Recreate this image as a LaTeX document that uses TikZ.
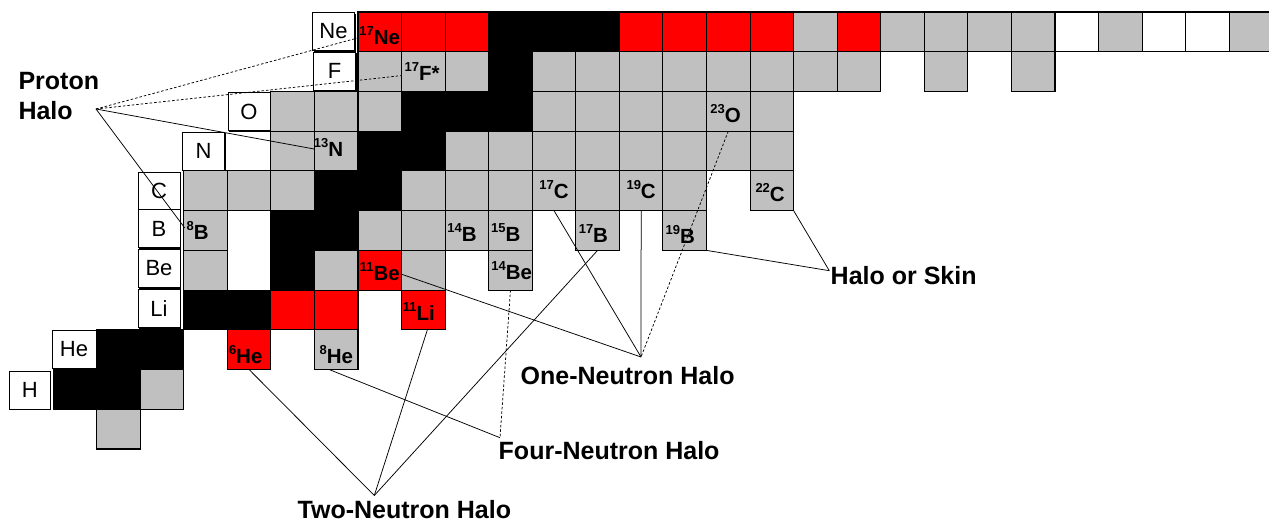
\documentclass[tikz,border=0pt]{standalone}
\usepackage{fontspec}
\setmainfont{Liberation Sans}
\usetikzlibrary{shadows}
\definecolor{silver}{RGB}{192,192,192}
\definecolor{hred}{RGB}{255,0,0}
\newcommand\isolab[2]{\raisebox{9pt}{\fontsize{13}{13}\selectfont\bfseries #1}{\fontsize{20.5}{20.5}\selectfont\bfseries #2}}
\begin{document}
\begin{tikzpicture}[x=1pt,y=-1pt,
  cellbox/.style={draw=black, line width=1.1pt, minimum width=43.56pt, minimum height=39.73pt, inner sep=0pt, outer sep=0pt},
  gcell/.style={cellbox, fill=silver},
  bcell/.style={cellbox, fill=black},
  rcell/.style={cellbox, fill=hred},
  wcell/.style={cellbox, fill=white},
  elbox/.style={draw=black, line width=0.8pt, fill=white, minimum width=42pt, minimum height=38pt, inner sep=0pt, font=\fontsize{22}{22}\selectfont, drop shadow={shadow xshift=1.3pt, shadow yshift=-1.3pt, fill=black, opacity=1}},
  isotxt/.style={inner sep=0pt},
  halotxt/.style={inner sep=0pt, anchor=base west, font=\fontsize{25}{25}\selectfont\bfseries},
  conn/.style={line width=0.75pt},
  dconn/.style={conn, dash pattern=on 2.5pt off 2pt}
]
\useasboundingbox[fill=white] (0,0) rectangle (1269,524);
% nuclide cells: N / Z / style
\foreach \k/\z/\s in {
  1/0/gcell,
  0/1/bcell, 1/1/bcell, 2/1/gcell,
  1/2/bcell, 2/2/bcell, 4/2/rcell, 6/2/gcell,
  3/3/bcell, 4/3/bcell, 5/3/rcell, 6/3/rcell, 8/3/rcell,
  3/4/gcell, 5/4/bcell, 6/4/gcell, 7/4/rcell, 8/4/gcell, 10/4/gcell,
  3/5/gcell, 5/5/bcell, 6/5/bcell, 7/5/gcell, 8/5/gcell, 9/5/gcell, 10/5/gcell, 12/5/gcell, 14/5/gcell,
  3/6/gcell, 4/6/gcell, 5/6/gcell, 6/6/bcell, 7/6/bcell, 8/6/gcell, 9/6/gcell, 10/6/gcell, 11/6/gcell, 12/6/gcell, 13/6/gcell, 14/6/gcell, 16/6/gcell,
  5/7/gcell, 6/7/gcell, 7/7/bcell, 8/7/bcell, 9/7/gcell, 10/7/gcell, 11/7/gcell, 12/7/gcell, 13/7/gcell, 14/7/gcell, 15/7/gcell, 16/7/gcell,
  5/8/gcell, 6/8/gcell, 7/8/gcell, 8/8/bcell, 9/8/bcell, 10/8/bcell, 11/8/gcell, 12/8/gcell, 13/8/gcell, 14/8/gcell, 15/8/gcell, 16/8/gcell,
  7/9/gcell, 8/9/gcell, 9/9/gcell, 10/9/bcell, 11/9/gcell, 12/9/gcell, 13/9/gcell, 14/9/gcell, 15/9/gcell, 16/9/gcell, 17/9/gcell, 18/9/gcell, 20/9/gcell, 22/9/gcell,
  7/10/rcell, 8/10/rcell, 9/10/rcell, 10/10/bcell, 11/10/bcell, 12/10/bcell, 13/10/rcell, 14/10/rcell, 15/10/rcell, 16/10/rcell, 17/10/gcell, 18/10/rcell, 19/10/gcell, 20/10/gcell, 21/10/gcell, 22/10/gcell, 23/10/wcell, 24/10/gcell, 25/10/wcell, 26/10/wcell, 27/10/gcell}
  \node[\s] (c-\k-\z) at ({53.1+43.56*(\k+0.5)},{12+39.73*(10.5-\z)}) {};
% isotope labels
\node[isotxt, yshift=-3.3pt] (t-ne17) at (c-7-10) {\isolab{17}{Ne}};
\node[isotxt, xshift=-1.3pt] (t-f17) at (c-8-9) {\isolab{17}{F*}};
\node[isotxt, xshift=-7.7pt, yshift=3.6pt] (t-n13) at (c-6-7) {\isolab{13}{N}};
\node[isotxt, xshift=-8pt, yshift=0.5pt] (t-b8) at (c-3-5) {\isolab{8}{B}};
\node[isotxt, xshift=-5pt, yshift=-1.9pt] (t-b14) at (c-9-5) {\isolab{14}{B}};
\node[isotxt, xshift=-4.8pt, yshift=-1.9pt] (t-b15) at (c-10-5) {\isolab{15}{B}};
\node[isotxt, xshift=-4.2pt, yshift=-3.5pt] (t-b17) at (c-12-5) {\isolab{17}{B}};
\node[isotxt, xshift=-4.4pt, yshift=-3.5pt] (t-b19) at (c-14-5) {\isolab{19}{B}};
\node[isotxt, yshift=-1.4pt] (t-be11) at (c-7-4) {\isolab{11}{Be}};
\node[isotxt, xshift=1.2pt, yshift=-0.7pt] (t-be14) at (c-10-4) {\isolab{14}{Be}};
\node[isotxt, xshift=-4.6pt, yshift=-1.8pt] (t-li11) at (c-8-3) {\isolab{11}{Li}};
\node[isotxt, xshift=-3.4pt, yshift=-4.7pt] (t-he6) at (c-4-2) {\isolab{6}{He}};
\node[isotxt, yshift=-4.7pt] (t-he8) at (c-6-2) {\isolab{8}{He}};
\node[isotxt, yshift=1.1pt] (t-c17) at (c-11-6) {\isolab{17}{C}};
\node[isotxt, yshift=1.1pt] (t-c19) at (c-13-6) {\isolab{19}{C}};
\node[isotxt, xshift=-1.7pt, yshift=-1.3pt] (t-c22) at (c-16-6) {\isolab{22}{C}};
\node[isotxt, xshift=-2.7pt, yshift=-2.1pt] (t-o23) at (c-15-8) {\isolab{23}{O}};
% element boxes
\node[elbox] (e-ne) at (333.5,31.5) {Ne};
\node[elbox] (e-f) at (334.5,71) {F};
\node[elbox] (e-o) at (249,111.5) {O};
\node[elbox] (e-n) at (203.5,151) {N};
\node[elbox] (e-c) at (159,191) {C};
\node[elbox] (e-b) at (159,228.5) {B};
\node[elbox] (e-be) at (159,268.5) {Be};
\node[elbox] (e-li) at (159,308.5) {Li};
\node[elbox, minimum width=44pt] (e-he) at (74,349.5) {He};
\node[elbox, minimum width=40.5pt] (e-h) at (29.7,390) {H};
% halo labels
\node[halotxt] (t-proton1) at (18.3,89.3) {Proton};
\node[halotxt] (t-proton2) at (18.3,119.3) {Halo};
\node[halotxt] (t-one) at (520.5,384.3) {One-Neutron Halo};
\node[halotxt] (t-four) at (498.5,459.7) {Four-Neutron Halo};
\node[halotxt] (t-two) at (297.5,518) {Two-Neutron Halo};
\node[halotxt] (t-skin) at (830.5,284) {Halo or Skin};
% convergence points
\coordinate (ph) at (96,109);
\coordinate (onh) at (641,357);
\coordinate (tnh) at (374.3,495.5);
\coordinate (fnh) at (500,437.7);
\coordinate (hos) at (829.3,270.7);
% connectors
\draw[dconn] (ph) -- ([yshift=-6pt]c-7-10.west);
\draw[dconn] (ph) -- ([yshift=-4pt]c-8-9.west);
\draw[conn] (ph) -- ([yshift=2pt]c-6-7.west);
\draw[conn] (ph) -- ([xshift=1pt,yshift=2.5pt]c-3-5.west);
\draw[conn] ([yshift=-4pt]c-7-4.east) -- (onh);
\draw[conn] (c-11-6.south) -- (onh);
\draw[conn] (c-13-6.south) -- (onh);
\draw[dconn] (c-15-8.south) -- (onh);
\draw[conn] (c-4-2.south) -- (tnh);
\draw[conn] ([xshift=4pt]c-8-3.south) -- (tnh);
\draw[conn] (c-12-5.south) -- (tnh);
\draw[conn] ([xshift=-7pt]c-6-2.south) -- (fnh);
\draw[dconn] (c-10-4.south) -- (fnh);
\draw[conn] (c-16-6.south east) -- (hos);
\draw[conn] (c-14-5.south east) -- (hos);
\end{tikzpicture}
\end{document}
